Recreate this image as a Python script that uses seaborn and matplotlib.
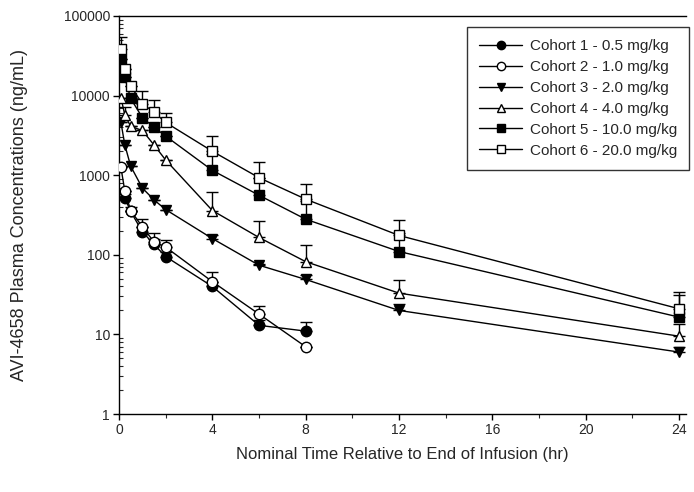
import numpy as np
import pandas as pd
import seaborn as sns
import matplotlib
matplotlib.use("Agg")
import matplotlib.pyplot as plt
from matplotlib import ticker

# Sampling times (hr)
times_full = [0.083, 0.25, 0.5, 1, 1.5, 2, 4, 6, 8, 12, 24]
times_c1 = [0.25, 0.5, 1, 1.5, 2, 4, 6, 8]
times_c2 = [0.083, 0.25, 0.5, 1, 1.5, 2, 4, 6, 8]

# Mean concentrations (ng/mL)
c1_mean = [520, 350, 195, 135, 95, 40, 13, 11]
c2_mean = [1250, 630, 360, 225, 145, 125, 46, 18, 7]
c3_mean = [4600, 2400, 1300, 690, 490, 370, 160, 74, 49, 20, 6]
c4_mean = [9400, 5700, 4100, 3650, 2400, 1550, 360, 165, 82, 33, 9.5]
c5_mean = [29000, 17000, 9200, 5300, 4000, 3100, 1150, 560, 280, 110, 16.5]
c6_mean = [39000, 21700, 13200, 7900, 6200, 4600, 2000, 930, 500, 175, 21]

# Upper SD
c1_sd = [60, 50, 30, 25, 15, 6, 2, 3.5]
c2_sd = [0, 0, 0, 60, 45, 30, 14, 5, 0]
c3_sd = [0, 0, 0, 0, 0, 0, 15, 3, 6, 4, 1]
c4_sd = [0, 1500, 0, 0, 0, 0, 260, 100, 50, 15, 4]
c5_sd = [0, 0, 0, 0, 0, 0, 700, 350, 200, 80, 14.5]
c6_sd = [15000, 0, 0, 3500, 2700, 1500, 1100, 550, 280, 100, 13]

labels = ["Cohort 1 - 0.5 mg/kg", "Cohort 2 - 1.0 mg/kg", "Cohort 3 - 2.0 mg/kg",
          "Cohort 4 - 4.0 mg/kg", "Cohort 5 - 10.0 mg/kg", "Cohort 6 - 20.0 mg/kg"]

cohorts = [
    (times_c1, c1_mean, c1_sd, "o", "black"),
    (times_c2, c2_mean, c2_sd, "o", "white"),
    (times_full, c3_mean, c3_sd, "v", "black"),
    (times_full, c4_mean, c4_sd, "^", "white"),
    (times_full, c5_mean, c5_sd, "s", "black"),
    (times_full, c6_mean, c6_sd, "s", "white"),
]

sns.set_style("ticks")
plt.rcParams['font.family'] = ['Liberation Sans', 'DejaVu Sans']

fig = plt.figure(figsize=(6.94, 4.92), dpi=100)
ax = fig.add_axes([119 / 694, 1 - 414 / 492, (686 - 119) / 694, (414 - 16) / 492])

for (t, m, sd, mk, fc), lab in zip(cohorts, labels):
    df = pd.DataFrame({"time": t, "conc": m, "sd": sd})
    # error bars (upper only)
    ax.errorbar(df["time"], df["conc"], yerr=[np.zeros(len(df)), df["sd"]],
                fmt="none", ecolor="black", elinewidth=1, capsize=4.5, capthick=1, zorder=2)
    sns.lineplot(data=df, x="time", y="conc", ax=ax, color="black", linewidth=1,
                 marker=mk, markersize=7.5, markerfacecolor=fc, markeredgecolor="black",
                 markeredgewidth=1, label=lab, errorbar=None, zorder=3)

ax.set_yscale("log")
ax.set_ylim(1, 100000)
ax.set_xlim(0, 24.3)
ax.set_xticks([0, 4, 8, 12, 16, 20, 24])
ax.xaxis.set_minor_locator(ticker.MultipleLocator(2))
ax.yaxis.set_major_locator(ticker.LogLocator(base=10, numticks=10))
ax.yaxis.set_minor_locator(ticker.LogLocator(base=10, subs=np.arange(2, 10), numticks=20))
ax.yaxis.set_major_formatter(ticker.FuncFormatter(lambda v, _: f"{v:g}"))
ax.yaxis.set_minor_formatter(ticker.NullFormatter())

ax.tick_params(axis="both", which="major", labelsize=10, length=4, width=1, pad=2.5,
               color="black", direction="out")
ax.tick_params(axis="y", which="minor", length=3, width=0.8, direction="in")
ax.tick_params(axis="x", which="minor", length=3, width=0.8, direction="out")

for s in ["left", "top", "bottom"]:
    ax.spines[s].set_visible(True)
    ax.spines[s].set_color("black")
    ax.spines[s].set_linewidth(1)
ax.spines["right"].set_visible(False)

ax.set_xlabel("Nominal Time Relative to End of Infusion (hr)", fontsize=12, labelpad=7)
ax.set_ylabel("AVI-4658 Plasma Concentrations (ng/mL)", fontsize=13)
ax.yaxis.set_label_coords((28 - 119) / 567, 0.5)

leg = ax.legend(loc="upper left", bbox_to_anchor=(467 / 694, 1 - 27 / 492),
                bbox_transform=fig.transFigure, borderaxespad=0, fontsize=11, frameon=True,
                fancybox=False, edgecolor="black", handlelength=2.8, handletextpad=0.5,
                labelspacing=0.45, borderpad=0.8, markerscale=0.8)
leg.get_frame().set_linewidth(1)

fig.savefig("out.png", dpi=100)
